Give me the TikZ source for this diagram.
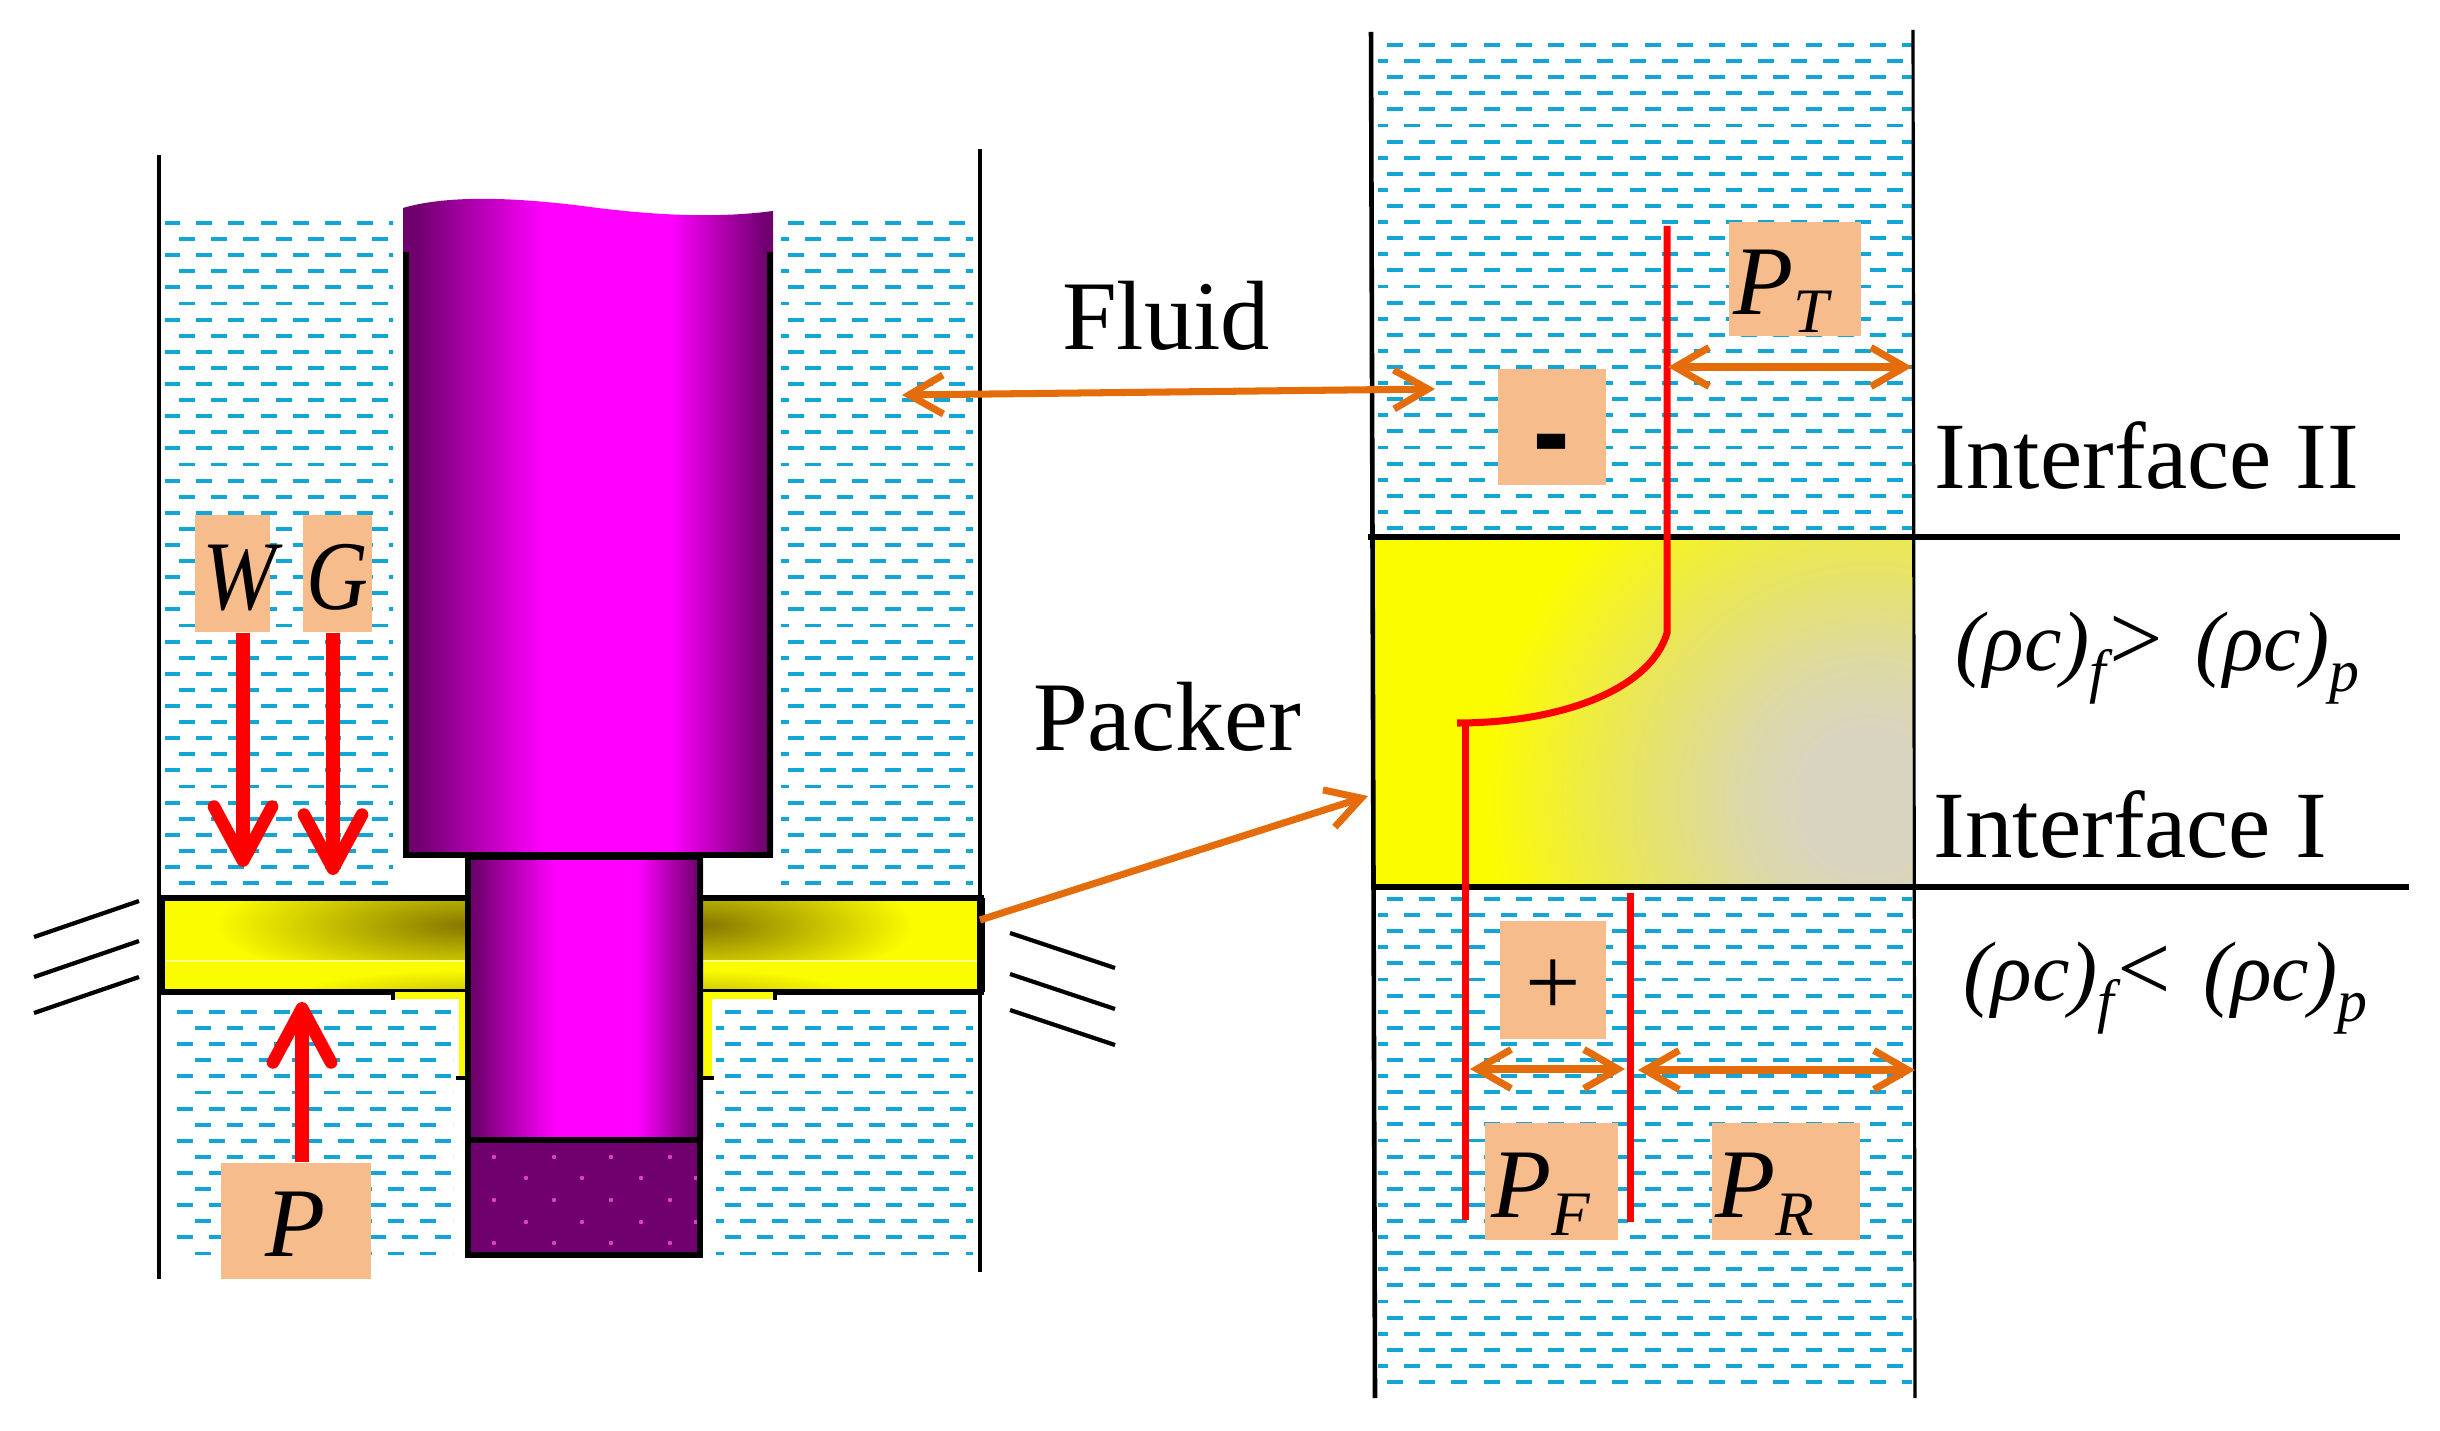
\documentclass[tikz,border=0pt]{standalone}
\usepackage{fontspec}
\setmainfont{Liberation Serif}
\usetikzlibrary{arrows.meta}

\definecolor{fluidblue}{HTML}{12A5D6}
\definecolor{peach}{HTML}{F6BC8C}
\definecolor{pinkdot}{HTML}{E040D0}
\definecolor{darkpipe}{HTML}{70006E}
\definecolor{pipemagenta}{HTML}{FF00FF}
\definecolor{orangearrow}{HTML}{E46C0A}
\definecolor{packeryellow}{HTML}{FCFC00}
\definecolor{olivepacker}{HTML}{857800}
\definecolor{softolive}{HTML}{C8C408}
\definecolor{beigepacker}{HTML}{D9D4C0}
\definecolor{lowpacker}{HTML}{DDD9A6}
\definecolor{midpacker}{HTML}{E9E65A}

\pgfdeclarehorizontalshading{pipeshade}{100bp}{color(0bp)=(darkpipe); color(27bp)=(darkpipe); color(44bp)=(pipemagenta); color(61bp)=(pipemagenta); color(74bp)=(darkpipe); color(100bp)=(darkpipe)}
\pgfdeclareradialshading{packerglow}{\pgfpointorigin}{color(0bp)=(beigepacker); color(4bp)=(beigepacker); color(8bp)=(lowpacker); color(15bp)=(midpacker); color(23bp)=(packeryellow); color(50bp)=(packeryellow)}

\tikzset{
    fluiddash/.style={fluidblue, line width=1.1pt},
    wall/.style={black, line width=1.3pt},
    edgeline/.style={black, line width=1.7pt},
    labelbox/.style={fill=peach, inner sep=0pt, text height=20pt, text depth=12pt, font=\fontsize{28}{28}\selectfont},
    plaintext/.style={inner sep=0pt, font=\fontsize{27}{27}\selectfont},
    ratiotext/.style={inner sep=0pt, font=\fontsize{24}{24}\selectfont},
    forcearrow/.style={red, line width=4pt, -{Straight Barb[length=5.4mm,width=5.8mm,line width=3.6pt,round]}},
    dimarrow/.style={orangearrow, line width=2pt, {Straight Barb[length=3.4mm,width=3.9mm,line width=2pt]}-{Straight Barb[length=3.4mm,width=3.9mm,line width=2pt]}},
    redline/.style={red, line width=2pt},
}

% x0, x1, y0, y1, start of even rows, start of odd rows
\newcommand{\fluidpatch}[6]{%
    \begin{scope}
    \clip (#1,#3-5) rectangle (#2,#4+5);
    \pgfmathtruncatemacro{\nrow}{(#4-#3)/16.1+0.5}
    \pgfmathtruncatemacro{\ncol}{(#2-#1)/32+1}
    \foreach \r in {0,...,\nrow}{
        \pgfmathsetmacro{\yy}{#3+16.1*\r}
        \pgfmathsetmacro{\xx}{isodd(\r)?#6:#5}
        \foreach \c in {0,...,\ncol}{
            \draw[fluiddash] ({\xx+32.2*\c-8},\yy) -- ++(16,0);
        }
    }
    \end{scope}%
}
\newcommand{\pressure}[2]{\raisebox{-6.2pt}{\textit{P}}\raisebox{-11.3pt}{\fontsize{18}{18}\selectfont\textit{#1}}\kern#2\relax}
\newcommand{\ratiosub}[1]{\raisebox{-6pt}{\fontsize{17}{17}\selectfont\textit{#1}}}

\begin{document}
\begin{tikzpicture}[x=0.01cm,y=-0.01cm]
    \useasboundingbox (0,0) rectangle (2440,1431);

    % fluid, left part
    \fluidpatch{165}{393}{223}{883}{172}{187}
    \fluidpatch{781}{973}{223}{883}{796}{781}
    \fluidpatch{176}{453}{1012}{1253}{185}{203}
    \fluidpatch{716}{973}{1012}{1253}{733}{716}

    % fluid, right part
    \fluidpatch{1378}{1912}{45}{530}{1395}{1380}
    \fluidpatch{1378}{1912}{899}{1384}{1395}{1380}

    % packer, left part
    \begin{scope}
    \clip (165,898) rectangle (977,992);
    \fill[packeryellow] (165,898) rectangle (977,992);
    \shade[inner color=olivepacker, outer color=packeryellow] (465,925) ellipse (250 and 62);
    \shade[inner color=olivepacker, outer color=packeryellow] (703,925) ellipse (210 and 62);
    \fill[packeryellow] (165,961) rectangle (977,992);
    \shade[inner color=softolive, outer color=packeryellow] (465,994) ellipse (170 and 24);
    \shade[inner color=softolive, outer color=packeryellow] (703,994) ellipse (150 and 24);
    \fill[packeryellow!50!white] (165,960) rectangle (977,962);
    \end{scope}
    \draw[edgeline] (159,898) -- (984,898);
    \draw[edgeline] (159,992) -- (984,992);
    \draw[black, line width=2.3pt] (981,898) -- (981,992);
    \draw[black, line width=2pt] (161,898) -- (161,992);

    % collar under the packer
    \fill[packeryellow] (394,992) rectangle (465,999);
    \fill[packeryellow] (459,992) rectangle (465,1080);
    \fill[packeryellow] (703,992) rectangle (774,999);
    \fill[packeryellow] (703,992) rectangle (712,1080);
    \draw[black, line width=1.2pt] (393,992) -- (393,1000);
    \draw[black, line width=1.2pt] (775,992) -- (775,1000);
    \draw[black, line width=1.4pt] (456,1078) -- (465,1078);
    \draw[black, line width=1.4pt] (703,1078) -- (714,1078);

    % upper pipe
    \shade[shading=pipeshade] (403,208) .. controls (440,197) and (500,195) .. (590,207) .. controls (660,216) and (720,218) .. (773,211) -- (773,855) -- (403,855) -- cycle;
    \draw[edgeline] (406,252) -- (406,855) -- (770,855) -- (770,252);

    % lower pipe
    \shade[shading=pipeshade] (465,857) rectangle (703,1140);
    \fill[darkpipe] (465,1140) rectangle (703,1255);
    \foreach \xa/\xb in {494/526,554/582,611/641,670/696}{
        \foreach \ya in {1157,1200,1243}{
            \fill[pinkdot] (\xa,\ya) circle (2.2);
        }
        \foreach \yb in {1178,1222}{
            \fill[pinkdot] (\xb,\yb) circle (2.2);
        }
    }
    \draw[edgeline] (468,857) rectangle (700,1255);
    \draw[edgeline] (468,1140) -- (700,1140);

    % walls
    \draw[wall] (159,155) -- (159,1279);
    \draw[wall] (980,149) -- (980,1272);

    % hatches
    \foreach \ya in {937,977,1013}{
        \draw[black, line width=1.2pt] (34,\ya) -- ++(105,-36);
    }
    \foreach \ya in {933,974,1010}{
        \draw[black, line width=1.2pt] (1010,\ya) -- ++(105,35);
    }

    % packer, right part
    \begin{scope}
    \clip (1372,537) rectangle (1912,887);
    \fill[packeryellow] (1372,537) rectangle (1912,887);
    \shade[shading=packerglow] (1870,800) circle (420);
    \end{scope}
    \draw[wall] (1371,32) -- (1375,1398);
    \draw[wall, line width=0.9pt] (1913,30) -- (1915,1398);
    \draw[edgeline] (1368,537) -- (2400,537);
    \draw[edgeline] (1376,887) -- (2409,887);

    % pressure lines
    \draw[redline] (1667,226) -- (1667,633) .. controls (1650,690) and (1560,723) .. (1457,723);
    \draw[redline] (1465,723) -- (1465,1220);
    \draw[redline] (1630,893) -- (1630,1222);

    % label boxes
    \node[labelbox, minimum width=0.75cm, minimum height=1.17cm] (boxW) at (232.5,573.5) {\makebox[0pt]{\hspace{6pt}\raisebox{-6.2pt}{\scalebox{0.9}[1]{\textit{W}}}}};
    \node[labelbox, minimum width=0.69cm, minimum height=1.17cm] (boxG) at (337.5,573.5) {\makebox[0pt]{\raisebox{-6.2pt}{\scalebox{0.87}[1]{\textit{G}}}}};
    \node[labelbox, minimum width=1.49cm, minimum height=1.16cm] (boxP) at (296,1221) {\raisebox{-6.2pt}{\textit{P}}};
    \node[labelbox, minimum width=1.31cm, minimum height=1.14cm] (boxPT) at (1795,279) {\pressure{T}{7pt}};
    \node[labelbox, minimum width=1.08cm, minimum height=1.16cm] (boxMinus) at (1552,427) {\raisebox{-12pt}{\scalebox{1.1}[1.8]{\textbf{-}}}};
    \node[labelbox, minimum width=1.05cm, minimum height=1.18cm] (boxPlus) at (1553,980) {\raisebox{-6pt}{+}};
    \node[labelbox, minimum width=1.33cm, minimum height=1.17cm] (boxPF) at (1551.5,1181.5) {\pressure{F}{6pt}};
    \node[labelbox, minimum width=1.48cm, minimum height=1.17cm] (boxPR) at (1786,1181.5) {\pressure{R}{12pt}};

    % force arrows
    \coordinate (tipW) at (243,867);
    \coordinate (tipG) at (333,875);
    \coordinate (tipP) at (302,1002);
    \draw[forcearrow] (boxW.south -| tipW) -- (tipW);
    \draw[forcearrow] (boxG.south -| tipG) -- (tipG);
    \draw[forcearrow] (boxP.north -| tipP) -- (tipP);

    % texts
    \node[plaintext, font=\fontsize{28}{28}\selectfont] (fluidtext) at (1166,316) {Fluid};
    \node[plaintext, font=\fontsize{28}{28}\selectfont] (packertext) at (1167,717) {Packer};
    \node[plaintext, anchor=west] (interfaceB) at (1934,456) {Interface II};
    \node[plaintext, anchor=base west] (interfaceA) at (1933,857) {Interface\hspace{7pt}I};
    \node[ratiotext, anchor=base west] (ratioB) at (1955,670) {\textit{(ρc)}\ratiosub{f}\kern-1pt{\fontsize{27}{27}\selectfont>}\hspace{9pt}\textit{(ρc)}\ratiosub{p}};
    \node[ratiotext, anchor=base west] (ratioA) at (1963,1000) {\textit{(ρc)}\ratiosub{f}\kern-1pt{\fontsize{27}{27}\selectfont<}\hspace{9pt}\textit{(ρc)}\ratiosub{p}};

    % orange arrows
    \coordinate (fluidL) at (902,395);
    \coordinate (fluidR) at (1435,389);
    \coordinate (packerL) at (980,920);
    \coordinate (packerR) at (1368,796);
    \coordinate (ptL) at (1668,367);
    \coordinate (ptR) at (1912,367);
    \coordinate (pfL) at (1470,1069);
    \coordinate (pfR) at (1625,1069);
    \coordinate (prL) at (1638,1070);
    \coordinate (prR) at (1915,1070);
    \draw[dimarrow] (fluidL) -- (fluidR);
    \draw[dimarrow, -{Straight Barb[length=3.4mm,width=3.9mm,line width=2pt]}] (packerL) -- (packerR);
    \draw[dimarrow] (ptL) -- (ptR);
    \draw[dimarrow] (pfL) -- (pfR);
    \draw[dimarrow] (prL) -- (prR);
\end{tikzpicture}
\end{document}
